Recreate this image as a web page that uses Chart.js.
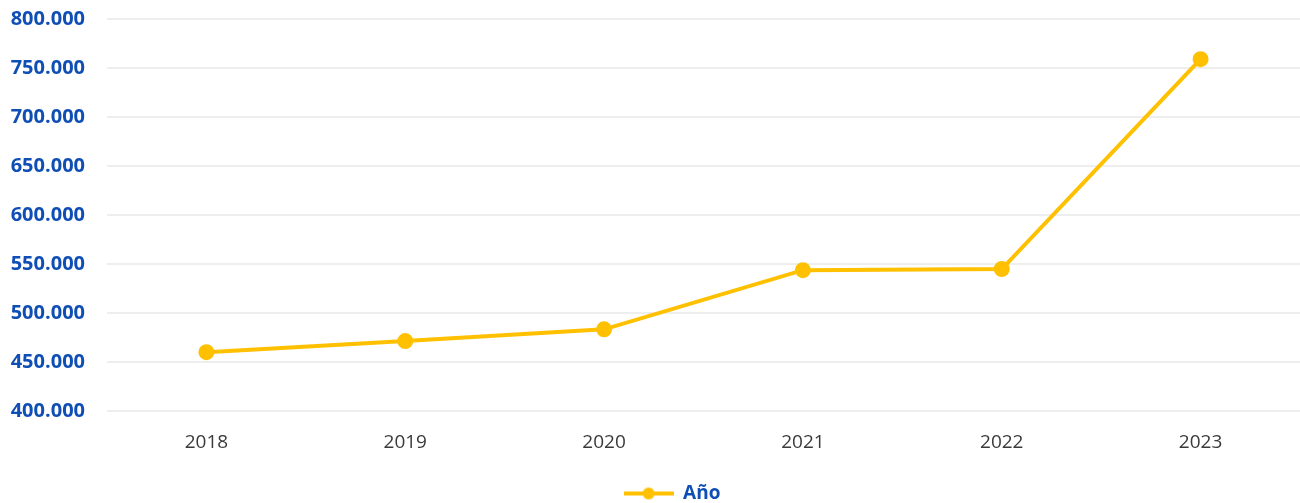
<!DOCTYPE html>
<html lang="es">
  <head>
    <meta charset="utf-8" />
    <title>Año</title>
    <style>
      * {
        margin: 0;
        padding: 0;
      }
      body {
        background: #ffffff;
      }
      .chartBox {
        width: 1300px;
        height: 503px;
      }
    </style>
  </head>
  <body>
    <div class="chartBox">
      <canvas id="myChart"></canvas>
    </div>

    <script src="https://cdn.jsdelivr.net/npm/chart.js@4/dist/chart.umd.min.js"></script>

    <script>
      // data block
      const years = ["2018", "2019", "2020", "2021", "2022", "2023"];
      const values = [460200, 471500, 483500, 543800, 545000, 759000];
      const seriesName = "Año";

      const gold = "#FFC000";
      const blue = "#0f4fb5";

      // 800000 -> "800.000"
      const fmt = (v) => String(v).replace(/\B(?=(\d{3})+(?!\d))/g, ".");

      // legend marker: line with a dot in the middle, like the series
      const marker = document.createElement("canvas");
      marker.width = 50;
      marker.height = 14;
      const mctx = marker.getContext("2d");
      mctx.strokeStyle = gold;
      mctx.lineWidth = 4;
      mctx.beginPath();
      mctx.moveTo(0, 7);
      mctx.lineTo(50, 7);
      mctx.stroke();
      mctx.fillStyle = gold;
      mctx.beginPath();
      mctx.arc(25, 7, 6, 0, Math.PI * 2);
      mctx.fill();

      // legend sits a bit right of centre in the original
      const legendShift = {
        id: "legendShift",
        beforeDraw(chart) {
          chart.legend.left += 14;
          chart.legend.right += 14;
        },
      };

      const data = {
        labels: years,
        datasets: [
          {
            label: seriesName,
            data: values,
            borderColor: gold,
            backgroundColor: gold,
            borderWidth: 4,
            pointRadius: 6,
            pointHoverRadius: 6,
            tension: 0,
            clip: false,
          },
        ],
      };

      // config block
      const config = {
        type: "line",
        data: data,
        plugins: [legendShift],
        options: {
          responsive: true,
          maintainAspectRatio: false,
          animation: false,
          layout: {
            autoPadding: false,
            padding: { top: 19, left: 9, right: -7, bottom: -10 },
          },
          scales: {
            x: {
              offset: true,
              grid: { display: false, drawTicks: false },
              border: { display: false },
              afterFit: (scale) => {
                scale.height += 8;
              },
              ticks: {
                color: "#3a3a3a",
                font: { family: "Open Sans", size: 19 },
                padding: 20,
              },
            },
            y: {
              min: 400000,
              max: 800000,
              grid: { color: "#eeeeee", lineWidth: 2, drawTicks: false },
              border: { display: false },
              afterFit: (scale) => {
                scale.width = 98;
                scale.paddingTop = 0;
                scale.paddingBottom = 0;
              },
              ticks: {
                stepSize: 50000,
                color: blue,
                font: { family: "Open Sans", size: 20, weight: "bold" },
                padding: 22,
                callback: (v) => fmt(v),
              },
            },
          },
          plugins: {
            legend: {
              position: "bottom",
              labels: {
                color: blue,
                font: { family: "Open Sans", size: 19, weight: "bold" },
                usePointStyle: true,
                pointStyleWidth: 50,
                padding: 2,
                generateLabels: (chart) => {
                  const items = Chart.defaults.plugins.legend.labels.generateLabels(chart);
                  items.forEach((it) => (it.pointStyle = marker));
                  return items;
                },
              },
            },
            tooltip: { enabled: false },
          },
        },
      };

      // init render block
      const ctx = document.getElementById("myChart");
      const myChart = new Chart(ctx, config);
    </script>
  </body>
</html>
